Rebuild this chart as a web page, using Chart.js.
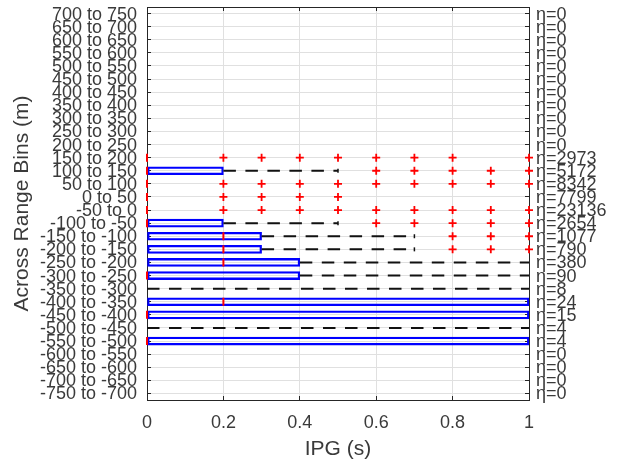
<!DOCTYPE html>
<html><head><meta charset="utf-8">
<script src="https://cdn.jsdelivr.net/npm/chart.js@4/dist/chart.umd.min.js"></script>
<style>html,body{margin:0;padding:0;background:#fff;}</style>
</head><body>
<canvas id="c" width="624" height="471" style="display:block;width:624px;height:471px"></canvas>
<script>
const categories = ['700 to 750','650 to 700','600 to 650','550 to 600','500 to 550','450 to 500','400 to 450','350 to 400','300 to 350','250 to 300','200 to 250','150 to 200','100 to 150','50 to 100','0 to 50','-50 to 0','-100 to -50','-150 to -100','-200 to -150','-250 to -200','-300 to -250','-350 to -300','-400 to -350','-450 to -400','-500 to -450','-550 to -500','-600 to -550','-650 to -600','-700 to -650','-750 to -700'];
const counts = [0,0,0,0,0,0,0,0,0,0,0,2973,5172,8342,7799,23136,2654,1077,790,380,90,8,24,15,4,4,0,0,0,0];
const q1 = [null,null,null,null,null,null,null,null,null,null,null,0,0,0,0,0,0,0,0,0,0,0,0,0,0,0,null,null,null,null];
const q3 = [null,null,null,null,null,null,null,null,null,null,null,0,0.2,0,0,0,0.2,0.3,0.3,0.4,0.4,0,1,1,0,1,null,null,null,null];
const medians = [null,null,null,null,null,null,null,null,null,null,null,0,0,0,0,0,0,0.2,0.2,0.2,0,null,0.2,0,null,0,null,null,null,null];
const whiskerHigh = [null,null,null,null,null,null,null,null,null,null,null,null,0.5,null,null,null,0.5,0.7,0.7,1,1,1,null,null,1,null,null,null,null,null];
const outliers = [[],[],[],[],[],[],[],[],[],[],[],
  [0.2,0.3,0.4,0.5,0.6,0.7,0.8,1.0],
  [0.6,0.7,0.8,0.9,1.0],
  [0.2,0.3,0.4,0.5,0.6,0.7,0.8,0.9,1.0],
  [0.2,0.3,0.4,0.5],
  [0.2,0.3,0.4,0.5,0.6,0.7,0.8,0.9,1.0],
  [0.6,0.7,0.8,0.9,1.0],
  [0.8,0.9,1.0],
  [0.8,0.9,1.0],
  [],[],[],[],[],[],[],[],[],[],[]];
const etaLabels = counts.map(n => '\u03B7=' + n);

const FONT = "'Liberation Sans', Arial, Helvetica, sans-serif";
const TXT = '#3a3a3a';
const AX = '#262626';
const GRID = '#e0e0e0';

const datasets = [];
datasets.push({
  type: 'bar',
  data: categories.map((c, i) => (q3[i] != null && q3[i] > q1[i]) ? [q1[i], q3[i]] : null),
  borderColor: '#0000ff', borderWidth: 1.6, backgroundColor: 'rgba(0,0,0,0)',
  borderSkipped: false, barThickness: 8, order: 5
});
categories.forEach((c, i) => {
  if (whiskerHigh[i] == null) return;
  datasets.push({
    type: 'scatter', showLine: true, clip: false,
    data: [{x: q3[i], y: c}, {x: whiskerHigh[i], y: c}],
    borderColor: '#111111', borderWidth: 2, borderDash: [12.5, 9.5],
    pointStyle: 'line', rotation: 90, pointRadius: [0, whiskerHigh[i] < 1 ? 2 : 0],
    pointBorderColor: '#111111', pointBorderWidth: 1.5, order: 4
  });
});
datasets.push({
  type: 'scatter', clip: false,
  data: categories.map((c, i) => medians[i] == null ? null : {x: medians[i], y: c}).filter(d => d),
  pointStyle: 'line', rotation: 90, pointRadius: 4,
  borderColor: '#ff0000', pointBorderColor: '#ff0000', pointBorderWidth: 2, order: 3
});
datasets.push({
  type: 'scatter', clip: false,
  data: categories.flatMap((c, i) => outliers[i].map(v => ({x: v, y: c}))),
  pointStyle: 'cross', pointRadius: 4,
  borderColor: '#ff0000', pointBorderColor: '#ff0000', pointBorderWidth: 1.8, order: 2
});

function noPad(s) { s.paddingTop = 0; s.paddingBottom = 0; }

new Chart(document.getElementById('c'), {
  type: 'bar',
  data: { labels: categories, datasets },
  options: {
    indexAxis: 'y',
    responsive: false,
    animation: false,
    devicePixelRatio: 1,
    layout: { padding: { top: 7, left: 0, right: 0, bottom: 0 } },
    plugins: { legend: { display: false }, tooltip: { enabled: false } },
    scales: {
      x: {
        type: 'linear', position: 'bottom', min: 0, max: 1,
        ticks: { stepSize: 0.2, autoSkip: false, maxRotation: 0, padding: 16, color: TXT, font: { family: FONT, size: 18 },
                 callback: v => String(Math.round(v * 10) / 10) },
        grid: { color: GRID, tickColor: AX, tickLength: -4, lineWidth: 1 },
        border: { color: AX, width: 1 },
        title: { display: true, text: 'IPG (s)', color: TXT, font: { family: FONT, size: 21 }, padding: { top: 0, bottom: 9 } },
        afterFit(s) { s.height = 71; s.paddingLeft = 0; s.paddingRight = 0; }
      },
      x2: {
        type: 'linear', position: 'top', min: 0, max: 1,
        ticks: { display: false, stepSize: 0.2 },
        grid: { drawOnChartArea: false, tickColor: AX, tickLength: -4 },
        border: { color: AX, width: 1 },
        afterFit(s) { s.height = 0; s.paddingLeft = 0; s.paddingRight = 0; }
      },
      y: {
        type: 'category', position: 'left', offset: true,
        ticks: { autoSkip: false, padding: 14, labelOffset: 1, color: TXT, font: { family: FONT, size: 18 } },
        grid: { offset: false, color: GRID, tickColor: AX, tickLength: -4 },
        border: { color: AX, width: 1 },
        title: { display: true, text: 'Across Range Bins (m)', color: TXT, font: { family: FONT, size: 21 }, padding: { top: 10, bottom: 0 } },
        afterFit(s) { s.width = 147; noPad(s); }
      },
      yR: {
        type: 'category', position: 'right', offset: true, labels: etaLabels,
        ticks: { autoSkip: false, padding: 11, labelOffset: 1, color: TXT, font: { family: FONT, size: 18 } },
        grid: { offset: false, drawOnChartArea: false, tickColor: AX, tickLength: -4 },
        border: { color: AX, width: 1 },
        afterFit(s) { s.width = 95; noPad(s); }
      }
    }
  }
});
</script>
</body></html>
